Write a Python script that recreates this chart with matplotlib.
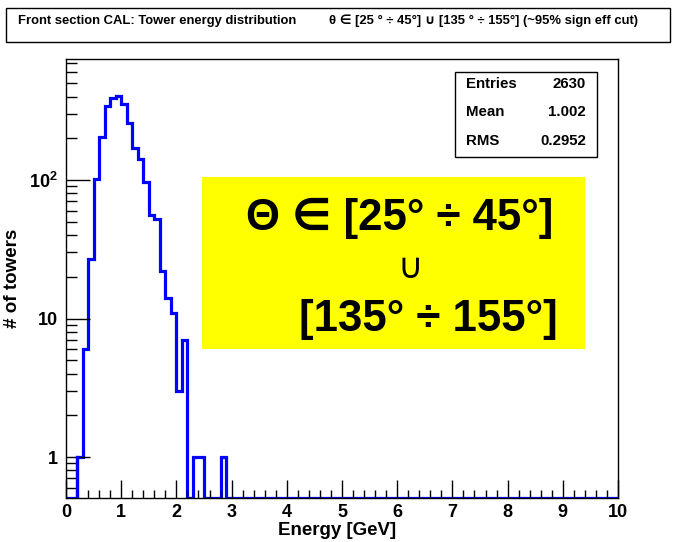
import numpy as np
import matplotlib
matplotlib.use("Agg")
import matplotlib.pyplot as plt
from matplotlib.patches import Rectangle
from matplotlib.ticker import FixedLocator, NullFormatter

plt.rcParams['font.family'] = ['Liberation Sans', 'DejaVu Sans']
plt.rcParams['mathtext.fontset'] = 'custom'
plt.rcParams['mathtext.bf'] = 'Liberation Sans:bold'
plt.rcParams['mathtext.rm'] = 'Liberation Sans'

# tower energy histogram, 0.1 GeV bins from 0 to 3 GeV (empty above)
bin_width = 0.1
counts = [0, 0, 1, 6, 27, 101, 203, 343, 394, 402,
          352, 260, 171, 143, 96, 56, 52, 22, 14, 11,
          3, 7, 0, 1, 1, 0, 0, 0, 1, 0]
x_max = 10.0

stats_names = ["Entries", "Mean", "RMS"]
stats_values = ["2630", "1.002", "0.2952"]

title_left = "Front section CAL: Tower energy distribution"
title_right = "\u03b8 \u2208 [25 \u00b0 \u00f7 45\u00b0] \u222a [135 \u00b0 \u00f7 155\u00b0] (~95% sign eff cut)"
box_lines = ["\u0398 \u2208 [25\u00b0 \u00f7 45\u00b0]", "\u222a", "[135\u00b0 \u00f7 155\u00b0]"]

y_min, y_max = 0.506, 748.0

n_bins = int(round(x_max / bin_width))
vals = np.zeros(n_bins)
vals[:len(counts)] = counts
edges = np.linspace(0, x_max, n_bins + 1)
# empty bins are drawn on the bottom of the frame
plot_vals = np.where(vals > 0, vals, y_min)

fig = plt.figure(figsize=(6.79, 5.42), dpi=100)
ax = fig.add_axes([66/679, 1 - 498/542, (618 - 66)/679, (498 - 59)/542])

ax.stairs(plot_vals, edges, baseline=None, color='#0000ff', lw=2.3)
ax.plot([edges[2], edges[2]], [y_min, plot_vals[2]], color='#0000ff', lw=2.3)

ax.set_yscale('log')
ax.set_xlim(0, x_max)
ax.set_ylim(y_min, y_max)

ax.set_xticks(np.arange(0, 11, 1))
ax.xaxis.set_minor_locator(FixedLocator(np.arange(0, 10.01, 0.2)))
ax.set_xticklabels([str(i) for i in range(11)], fontsize=13, fontweight='bold')
ax.set_yticks([1, 10, 100])
ax.set_yticklabels(['1', '10', r'$\mathbf{10^{2}}$'], fontsize=13, fontweight='bold')
minor_y = [m * d for d in (0.1, 1, 10, 100) for m in range(2, 10)]
ax.yaxis.set_minor_locator(FixedLocator([v for v in minor_y if y_min < v < y_max]))
ax.yaxis.set_minor_formatter(NullFormatter())

ax.tick_params(axis='x', which='major', direction='in', length=13, width=1, pad=4, top=False)
ax.tick_params(axis='x', which='minor', direction='in', length=6, width=1, top=False)
ax.tick_params(axis='y', which='major', direction='in', length=17, width=1, pad=6, right=False)
ax.tick_params(axis='y', which='minor', direction='in', length=8, width=1, right=False)
for s in ax.spines.values():
    s.set_linewidth(1.0)

ax.set_xlabel("Energy [GeV]", fontsize=13.5, fontweight='bold')
ax.set_ylabel("# of towers", fontsize=13.5, fontweight='bold')
ax.xaxis.set_label_coords((337 - 66) / 552, -(522 - 498) / 439, transform=ax.transAxes)
ax.yaxis.set_label_coords(-(21 - 66) / -552, (498 - 278) / 439, transform=ax.transAxes)

# title box
fig.patches.append(Rectangle((6/679, 1 - 42/542), 664/679, 34/542, transform=fig.transFigure,
                             fill=False, edgecolor='black', lw=1.0))
fig.text(18/679, 1 - 21/542, title_left, fontsize=9.4, fontweight='bold', va='center')
fig.text(329/679, 1 - 21/542, title_right, fontsize=9.4, fontweight='bold', va='center')

# statistics box
fig.patches.append(Rectangle((455/679, 1 - 157/542), 142/679, 85/542, transform=fig.transFigure,
                             facecolor='white', edgecolor='black', lw=1.0, zorder=5))
for i, (nm, v) in enumerate(zip(stats_names, stats_values)):
    yy = 1 - (84 + 28.5 * i) / 542
    fig.text(466/679, yy, nm, fontsize=10.8, fontweight='bold', va='center', zorder=6)
    fig.text(586/679, yy, v, fontsize=10.8, fontweight='bold', va='center', ha='right', zorder=6)

# highlighted theta range
fig.patches.append(Rectangle((202/679, 1 - 349/542), 383/679, 172/542, transform=fig.transFigure,
                             facecolor='#ffff00', edgecolor='none', zorder=5))
fig.text(400/679, 1 - 218/542, box_lines[0], fontsize=31.5, fontweight='bold',
         ha='center', va='center', zorder=6)
fig.text(410/679, 1 - 268/542, box_lines[1], fontsize=25, ha='center', va='center', zorder=6)
fig.text(428/679, 1 - 320/542, box_lines[2], fontsize=31.5, fontweight='bold',
         ha='center', va='center', zorder=6)

fig.savefig("out.png", dpi=100)
